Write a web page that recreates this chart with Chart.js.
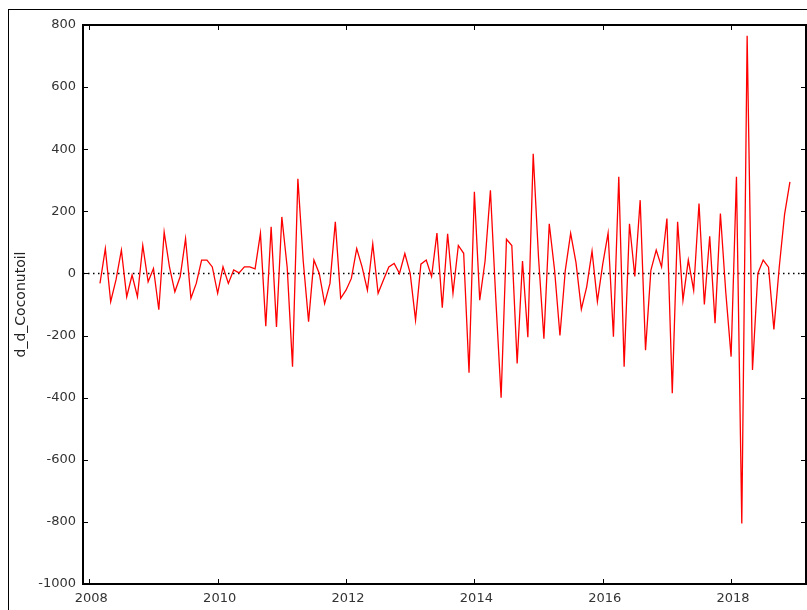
<!DOCTYPE html>
<html>
<head>
<meta charset="utf-8">
<script src="https://cdn.jsdelivr.net/npm/chart.js@4.4.1/dist/chart.umd.min.js"></script>
<style>
  html, body { margin: 0; padding: 0; background: #fff; }
  #wrap { position: relative; width: 807px; height: 610px; }
</style>
</head>
<body>
<div id="wrap"><canvas id="chart" width="807" height="610"></canvas></div>
<script>
// monthly series, first value is March 2008
const startYear = 2008;
const startMonth = 3;
const dCoconutoil = [
  -32, 80, -91, -20, 75, -75, -5, -75, 90, -27,
  16, -117, 133, 20, -59, -10, 112, -80, -32, 43,
  43, 21, -64, 21, -32, 11, 2, 21, 21, 15,
  129, -170, 150, -172, 182, 20, -300, 305, 40, -155,
  43, 0, -97, -32, 166, -80, -54, -16, 80, 21,
  -54, 95, -64, -21, 21, 32, 0, 64, 0, -150,
  30, 43, -10, 130, -110, 128, -64, 90, 65, -320,
  263, -86, 40, 268, -80, -400, 110, 90, -290, 40,
  -205, 385, 50, -210, 160, 10, -200, 10, 129, 35,
  -115, -43, 72, -90, 30, 130, -204, 311, -300, 160,
  -10, 236, -247, 10, 75, 21, 177, -386, 166, -86,
  43, -54, 225, -100, 120, -160, 193, -60, -268, 311,
  -805, 765, -311, 0, 43, 20, -180, 20, 190, 295
];
const yearTicks = [2008, 2010, 2012, 2014, 2016, 2018];
const valueTicks = [-1000, -800, -600, -400, -200, 0, 200, 400, 600, 800];
const yLabel = 'd_d_Coconutoil';

const points = dCoconutoil.map((v, i) => ({ x: startYear + (startMonth - 1 + i) / 12, y: v }));

const FAMILY = '"DejaVu Sans", Verdana, sans-serif';

const framePlugin = {
  id: 'frame',
  beforeDraw(chart) {
    const ctx = chart.ctx;
    ctx.save();
    ctx.fillStyle = '#fff';
    ctx.fillRect(0, 0, chart.width, chart.height);
    // outer box, runs off the right and bottom edge
    ctx.strokeStyle = '#000';
    ctx.lineWidth = 1;
    ctx.strokeRect(8.5, 9.5, 900, 900);
    ctx.restore();
  },
  beforeDatasetsDraw(chart) {
    const { ctx, chartArea: a, scales } = chart;
    const y0 = Math.round(scales.y.getPixelForValue(0)) + 0.5;
    ctx.save();
    ctx.strokeStyle = '#000';
    ctx.lineWidth = 1.5;
    ctx.setLineDash([1.5, 3.5]);
    ctx.beginPath();
    ctx.moveTo(a.left, y0);
    ctx.lineTo(a.right, y0);
    ctx.stroke();
    ctx.restore();
  },
  afterDraw(chart) {
    const { ctx, chartArea: a, scales } = chart;
    ctx.save();
    ctx.strokeStyle = '#000';
    ctx.lineWidth = 2;
    ctx.strokeRect(a.left, a.top, a.right - a.left, a.bottom - a.top);

    // inward tick marks on all four sides
    ctx.lineWidth = 1;
    const len = 5;
    ctx.beginPath();
    scales.x.ticks.forEach(t => {
      const px = Math.round(scales.x.getPixelForValue(t.value)) + 0.5;
      ctx.moveTo(px, a.bottom); ctx.lineTo(px, a.bottom - len);
      ctx.moveTo(px, a.top); ctx.lineTo(px, a.top + len);
    });
    scales.y.ticks.forEach(t => {
      const py = Math.round(scales.y.getPixelForValue(t.value)) + 0.5;
      ctx.moveTo(a.left, py); ctx.lineTo(a.left + len, py);
      ctx.moveTo(a.right, py); ctx.lineTo(a.right - len, py);
    });
    ctx.stroke();

    // y axis title
    ctx.fillStyle = '#222';
    ctx.font = '14px ' + FAMILY;
    ctx.textAlign = 'center';
    ctx.textBaseline = 'middle';
    ctx.translate(21, (a.top + a.bottom) / 2);
    ctx.rotate(-Math.PI / 2);
    ctx.fillText(yLabel, 0, 0);
    ctx.restore();
  }
};

new Chart(document.getElementById('chart'), {
  type: 'line',
  data: {
    datasets: [{
      label: yLabel,
      data: points,
      borderColor: '#ff0000',
      borderWidth: 1.3,
      pointRadius: 0,
      tension: 0,
      fill: false
    }]
  },
  options: {
    responsive: false,
    devicePixelRatio: 1,
    animation: false,
    layout: { padding: { left: 0, top: 25, right: 1, bottom: 0 } },
    plugins: { legend: { display: false }, tooltip: { enabled: false } },
    scales: {
      x: {
        type: 'linear',
        min: 2007.902,
        max: 2019.167,
        grid: { display: false, drawTicks: false },
        border: { display: false },
        afterBuildTicks: s => { s.ticks = yearTicks.map(v => ({ value: v })); },
        afterFit: s => { s.height = 26; },
        ticks: {
          color: '#333',
          font: { family: FAMILY, size: 13 },
          padding: 7,
          labelOffset: 2,
          maxRotation: 0,
          autoSkip: false,
          callback: v => String(v)
        }
      },
      y: {
        min: -1000,
        max: 800,
        grid: { display: false, drawTicks: false },
        border: { display: false },
        afterBuildTicks: s => { s.ticks = valueTicks.map(v => ({ value: v })); },
        afterFit: s => { s.width = 83; },
        ticks: {
          color: '#333',
          font: { family: FAMILY, size: 13 },
          padding: 7,
          autoSkip: false,
          callback: v => String(v)
        }
      }
    }
  },
  plugins: [framePlugin]
});
</script>
</body>
</html>
